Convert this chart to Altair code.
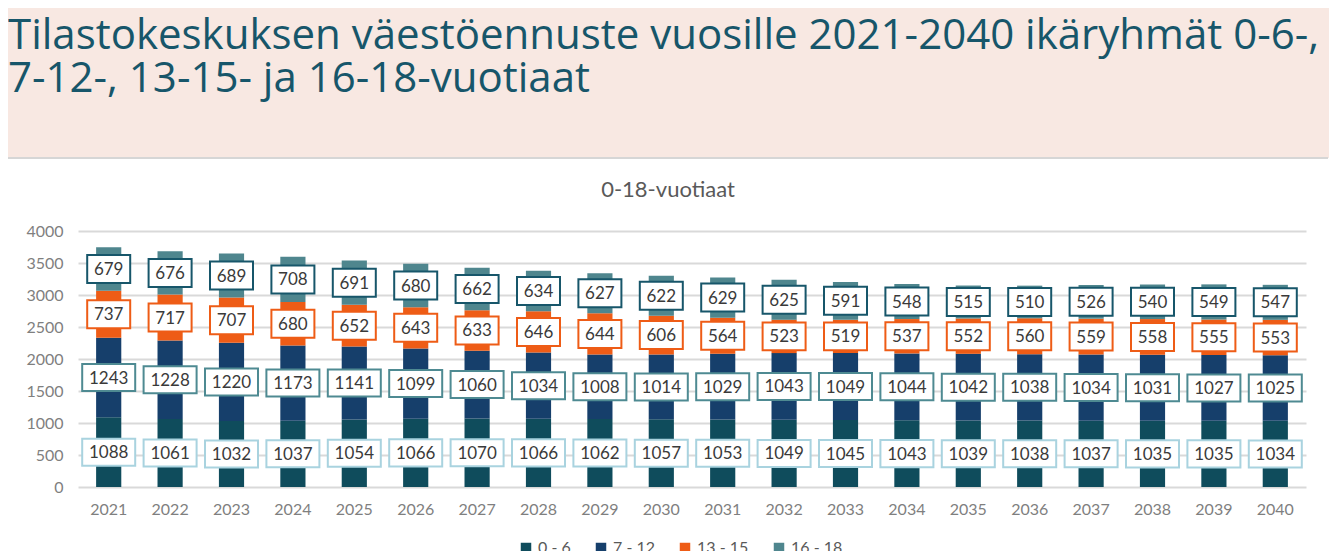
import altair as alt
import pandas as pd

years = [str(y) for y in range(2021, 2041)]
groups = ["0 - 6", "7 - 12", "13 - 15", "16 - 18"]
age_0_6 = [1088, 1061, 1032, 1037, 1054, 1066, 1070, 1066, 1062, 1057,
           1053, 1049, 1045, 1043, 1039, 1038, 1037, 1035, 1035, 1034]
age_7_12 = [1243, 1228, 1220, 1173, 1141, 1099, 1060, 1034, 1008, 1014,
            1029, 1043, 1049, 1044, 1042, 1038, 1034, 1031, 1027, 1025]
age_13_15 = [737, 717, 707, 680, 652, 643, 633, 646, 644, 606,
             564, 523, 519, 537, 552, 560, 559, 558, 555, 553]
age_16_18 = [679, 676, 689, 708, 691, 680, 662, 634, 627, 622,
             629, 625, 591, 548, 515, 510, 526, 540, 549, 547]
y_ticks = [0, 500, 1000, 1500, 2000, 2500, 3000, 3500, 4000]

title_line1 = "Tilastokeskuksen väestöennuste vuosille 2021-2040 ikäryhmät 0-6-,"
title_line2 = "7-12-, 13-15- ja 16-18-vuotiaat"
chart_title = "0-18-vuotiaat"

bar_colors = ["#0F4C5C", "#163F6B", "#EE5C16", "#4F868E"]
box_colors = ["#A9D3DF", "#4E8A92", "#EE5C16", "#17566A"]

series = [age_0_6, age_7_12, age_13_15, age_16_18]
rows = []
for i, yr in enumerate(years):
    for k, (g, vals) in enumerate(zip(groups, series)):
        rows.append({"year": yr, "group": g, "order": k, "value": vals[i],
                     "digits": str(len(str(vals[i])))})
df = pd.DataFrame(rows)

W, H = 1228, 256
PAD_L, PAD_T, PAD_R, PAD_B = 70, 223, 23, 64
FONT = "Lato"
TFONT = "Open Sans"
GRAY = "#7F7F7F"

x_axis = alt.Axis(title=None, labelAngle=0, ticks=False, domain=False,
                  labelPadding=14, labelFontSize=16, labelColor=GRAY,
                  labelFont=FONT)
x_scale = alt.Scale(paddingInner=0.59, paddingOuter=0.295)
y_scale = alt.Scale(domain=[0, 4000], nice=False)
y_axis = alt.Axis(title=None, values=y_ticks, grid=True, gridColor="#D9D9D9",
                  gridWidth=2, ticks=False, domain=False, labelPadding=15,
                  labelFontSize=16, labelColor=GRAY, labelFont=FONT, format="d",
                  labelOverlap=False, labelFlush=False)

one = pd.DataFrame({"a": [0]})

pink = alt.Chart(one).mark_rect(color="#F8E8E2").encode(
    x=alt.value(-PAD_L), x2=alt.value(W + PAD_R),
    y=alt.value(-PAD_T), y2=alt.value(-73))
panel_edge = alt.Chart(one).mark_rule(color="#D6D6D6", strokeWidth=2).encode(
    x=alt.value(-PAD_L), x2=alt.value(W + 22), y=alt.value(-73))

t1 = alt.Chart(pd.DataFrame({"t": [title_line1]})).mark_text(
    font=TFONT, fontSize=42, color="#17566A", align="left", baseline="alphabetic"
).encode(text="t:N", x=alt.value(-PAD_L), y=alt.value(-182))
t2 = alt.Chart(pd.DataFrame({"t": [title_line2]})).mark_text(
    font=TFONT, fontSize=42, color="#17566A", align="left", baseline="alphabetic"
).encode(text="t:N", x=alt.value(-PAD_L), y=alt.value(-139))
ct = alt.Chart(pd.DataFrame({"t": [chart_title]})).mark_text(
    font=FONT, fontSize=22, color="#595959", align="center", baseline="middle"
).encode(text="t:N", x=alt.value(590), y=alt.value(-41))

bars = alt.Chart(df).mark_bar().encode(
    x=alt.X("year:N", sort=years, scale=x_scale, axis=x_axis),
    y=alt.Y("value:Q", stack="zero", scale=y_scale, axis=y_axis),
    color=alt.Color("group:N", scale=alt.Scale(domain=groups, range=bar_colors),
                    legend=alt.Legend(title=None, orient="none", direction="horizontal",
                                      legendX=440, legendY=309, symbolType="square",
                                      symbolSize=110, symbolStrokeWidth=0,
                                      labelFontSize=16, labelFont=FONT,
                                      labelColor="#595959", columnPadding=22)),
    order=alt.Order("order:Q", sort="ascending"),
)

lab = alt.Chart(df).transform_stack(
    stack="value", groupby=["year"], as_=["v0", "v1"],
    sort=[alt.SortField("order", order="ascending")]
).transform_calculate(mid="(datum.v0 + datum.v1) / 2")

path3 = "M-1,-0.651H1V0.651H-1Z"
path4 = "M-1,-0.51H1V0.51H-1Z"

boxes = lab.mark_point(filled=True, fill="white", fillOpacity=1, opacity=1,
                       strokeWidth=2).encode(
    x=alt.X("year:N", sort=years, scale=x_scale, axis=x_axis),
    y=alt.Y("mid:Q", scale=y_scale, axis=y_axis),
    stroke=alt.Stroke("group:N", scale=alt.Scale(domain=groups, range=box_colors),
                      legend=None),
    shape=alt.Shape("digits:N", scale=alt.Scale(domain=["3", "4"], range=[path3, path4]),
                    legend=None),
    size=alt.Size("digits:O", scale=alt.Scale(domain=["3", "4"], range=[1849, 2809]),
                  legend=None),
)

texts = lab.mark_text(font=FONT, fontSize=17, color="#3A3A3A", baseline="middle",
                      dy=1).encode(
    x=alt.X("year:N", sort=years, scale=x_scale, axis=x_axis),
    y=alt.Y("mid:Q", scale=y_scale, axis=y_axis),
    text=alt.Text("value:Q", format="d"),
)

chart = alt.layer(pink, panel_edge, t1, t2, ct, bars, boxes, texts).properties(
    width=W, height=H,
    padding={"left": PAD_L, "top": PAD_T, "right": PAD_R, "bottom": PAD_B},
    autosize=alt.AutoSizeParams(type="none"),
).configure(background="white").configure_view(stroke=None)

chart.save("out.html", embed_options={"renderer": "svg", "actions": False})
